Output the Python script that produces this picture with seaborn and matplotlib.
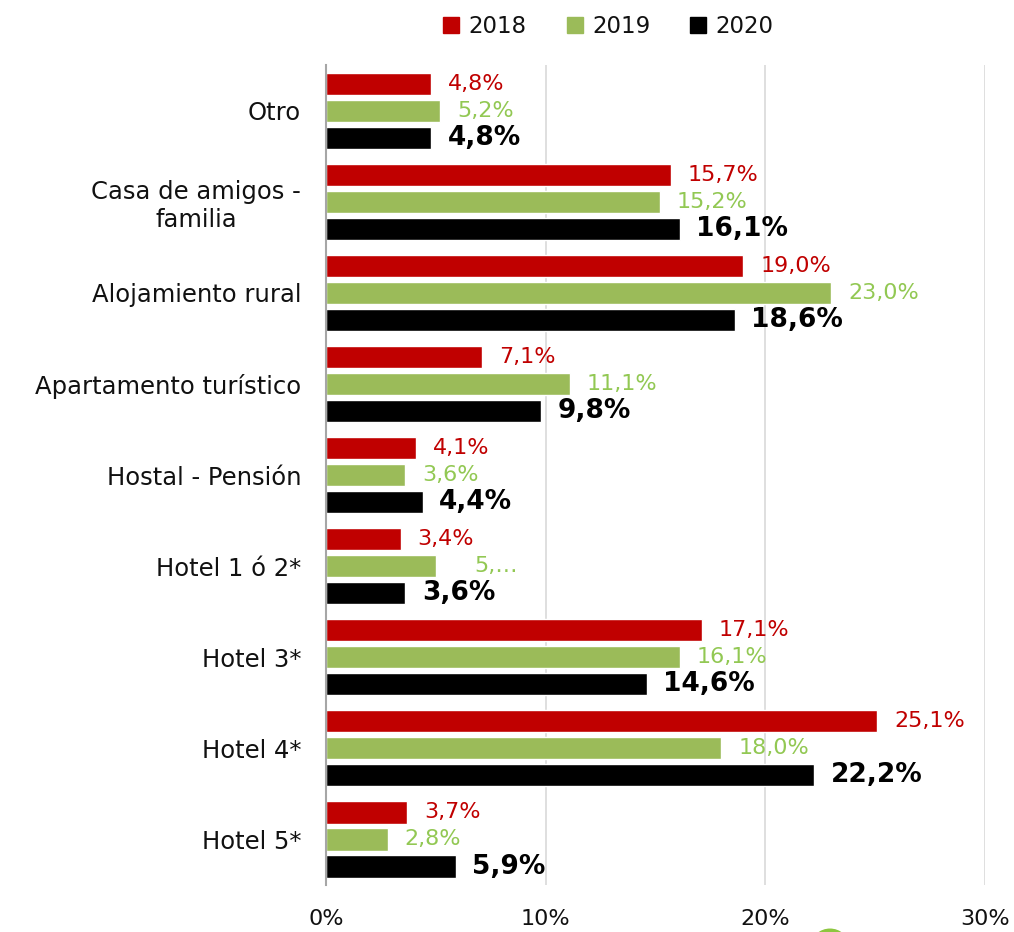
import pandas as pd
import numpy as np
import seaborn as sns
import matplotlib.pyplot as plt
from matplotlib.patches import Circle

# data
categories = ['Otro', 'Casa de amigos -\nfamilia', 'Alojamiento rural',
              'Apartamento turístico', 'Hostal - Pensión', 'Hotel 1 ó 2*',
              'Hotel 3*', 'Hotel 4*', 'Hotel 5*']
years = ['2018', '2019', '2020']
v2018 = [4.8, 15.7, 19.0, 7.1, 4.1, 3.4, 17.1, 25.1, 3.7]
v2019 = [5.2, 15.2, 23.0, 11.1, 3.6, 5.0, 16.1, 18.0, 2.8]
v2020 = [4.8, 16.1, 18.6, 9.8, 4.4, 3.6, 14.6, 22.2, 5.9]
xticks = [0, 10, 20, 30]

df = pd.DataFrame({'Categoria': categories * 3,
                   'Año': np.repeat(years, len(categories)),
                   'Valor': v2018 + v2019 + v2020})

bar_colors = ['#C00000', '#9BBB59', '#000000']
text_colors = ['#C00000', '#92C853', '#000000']

sns.set_style('white')
plt.rcParams['font.family'] = ['DejaVu Sans']
plt.rcParams['text.color'] = '#111111'
plt.rcParams['xtick.color'] = '#111111'
plt.rcParams['ytick.color'] = '#111111'

fig = plt.figure(figsize=(10.14, 9.32), dpi=100)
ax = fig.add_axes([0.3215, 0.0504, 0.65, 0.8796])

sns.barplot(data=df, y='Categoria', x='Valor', hue='Año', orient='h',
            palette=bar_colors, saturation=1, width=0.89, gap=0.18,
            legend=False, ax=ax)

ax.set_xlim(0, 30)
ax.set_ylim(8.5, -0.5)
ax.set_xticks(xticks)
ax.set_xticklabels([f'{t}%' for t in xticks], fontsize=16)
ax.tick_params(axis='x', length=0, pad=17)
ax.tick_params(axis='y', length=0, pad=18, labelsize=17.5)
for lbl in ax.get_yticklabels():
    lbl.set_multialignment('center')
ax.set_xlabel('')
ax.set_ylabel('')
ax.grid(axis='x', color='#D9D9D9', linewidth=1.2)
ax.set_axisbelow(True)
for s in ['top', 'right', 'bottom']:
    ax.spines[s].set_visible(False)
ax.spines['left'].set_color('#A6A6A6')
ax.spines['left'].set_linewidth(1.5)

# value labels
for i, cont in enumerate(ax.containers):
    vals = [v2018, v2019, v2020][i]
    labels = [f'{v:.1f}%'.replace('.', ',') for v in vals]
    if i == 1:
        labels[5] = ''
    weight = 'bold' if i == 2 else 'normal'
    size = 19 if i == 2 else 16
    ax.bar_label(cont, labels=labels, padding=12, color=text_colors[i],
                 fontsize=size, fontweight=weight)
    if i == 1:
        bar = cont.patches[5]
        ax.annotate('5,…', xy=(bar.get_width(), bar.get_y() + bar.get_height() / 2),
                    xytext=(28, 0), textcoords='offset points', va='center',
                    color=text_colors[1], fontsize=16)

# legend
handles = [plt.Rectangle((0, 0), 1, 1, color=c) for c in bar_colors]
fig.legend(handles, years, loc='upper center', bbox_to_anchor=(0.6, 1.006),
           ncol=3, frameon=False, fontsize=16.5, handlelength=0.7,
           handleheight=0.7, handletextpad=0.4, columnspacing=1.75)

# logo fragment at bottom
fig.patches.append(Circle((830 / 1014, -14 / 932), 0.018, transform=fig.transFigure,
                          color='#8DC63F', clip_on=False))

fig.savefig('out.png', dpi=100)
